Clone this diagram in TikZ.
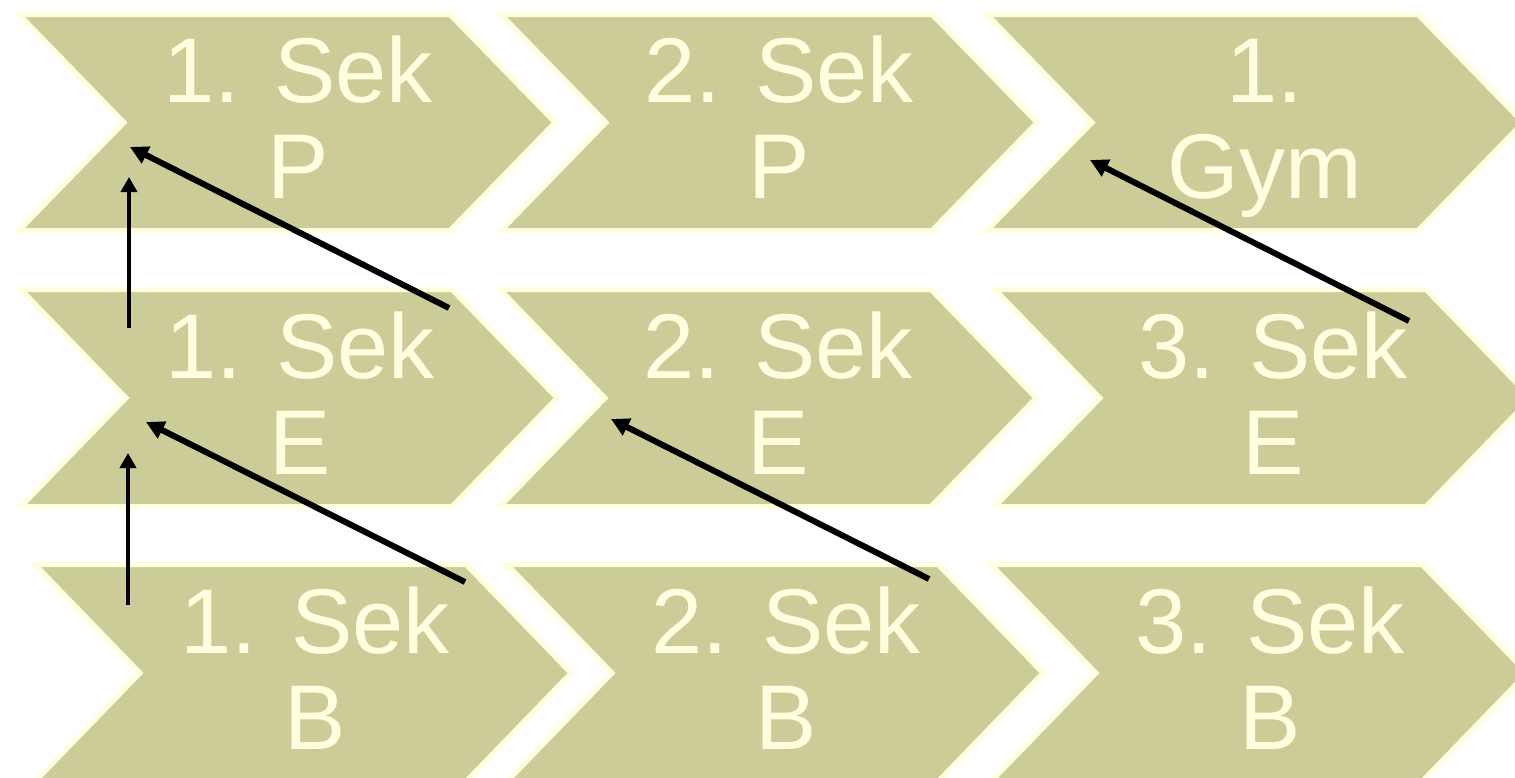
\documentclass[tikz,border=0pt]{standalone}
\usepackage{fontspec}
\setmainfont{Liberation Sans}
\usetikzlibrary{arrows.meta}
\definecolor{chevfill}{RGB}{204,204,153}
\definecolor{chevline}{RGB}{255,255,224}
\newcommand\mychev[3]{%
  \draw[chev] ({#1-3},{#2-2.5}) -- ({#1+428},{#2-2.5}) -- ({#1+533},{(#2+#3)/2})
    -- ({#1+428},{#3+2.5}) -- ({#1-3},{#3+2.5}) -- ({#1+102},{(#2+#3)/2}) -- cycle;}
\begin{document}
\begin{tikzpicture}[x=1pt,y=-1pt,
  chev/.style={fill=chevfill,draw=chevline,line width=5pt,line join=miter},
  lbl/.style={anchor=base,inner sep=0pt,text=chevline,font=\fontsize{92}{96}\selectfont},
  diag/.style={draw=black,line width=6pt,-{Triangle[length=18pt,width=18pt]}},
  vert/.style={draw=black,line width=3.8pt,-{Triangle[length=15pt,width=16pt]}}]
\useasboundingbox (0,0) rectangle (1515,777);
\fill[white] (0,0) rectangle (1515,777);
\clip (0,0) rectangle (1515,777);
% row 1
\mychev{22}{17}{228}
\mychev{504}{17}{228}
\mychev{990}{17}{228}
% row 2
\mychev{24}{292}{504}
\mychev{503}{292}{504}
\mychev{998}{292}{504}
% row 3
\mychev{38}{567}{779}
\mychev{510}{567}{779}
\mychev{994}{567}{779}
% labels row 1 (yc = 122.5)
\node[lbl] (p1a) at (298,102.5) {1. Sek};
\node[lbl] (p1b) at (298,198.5) {P};
\node[lbl] (p2a) at (779,102.5) {2. Sek};
\node[lbl] (p2b) at (779,198.5) {P};
\node[lbl] (g1a) at (1265,102.5) {1.};
\node[lbl] (g1b) at (1265,198.5) {Gym};
% labels row 2 (yc = 398)
\node[lbl] (e1a) at (300,378) {1. Sek};
\node[lbl] (e1b) at (300,474) {E};
\node[lbl] (e2a) at (778,378) {2. Sek};
\node[lbl] (e2b) at (778,474) {E};
\node[lbl] (e3a) at (1273,378) {3. Sek};
\node[lbl] (e3b) at (1273,474) {E};
% labels row 3 (yc = 673)
\node[lbl] (b1a) at (315,653) {1. Sek};
\node[lbl] (b1b) at (315,749) {B};
\node[lbl] (b2a) at (786,653) {2. Sek};
\node[lbl] (b2b) at (786,749) {B};
\node[lbl] (b3a) at (1270,653) {3. Sek};
\node[lbl] (b3b) at (1270,749) {B};
% arrow end points
\coordinate (aS) at (449,308);  \coordinate (aT) at (130,147);
\coordinate (bS) at (129,328);  \coordinate (bT) at (129,177);
\coordinate (cS) at (128,605);  \coordinate (cT) at (128,453);
\coordinate (dS) at (465,582);  \coordinate (dT) at (146,422);
\coordinate (eS) at (929,579);  \coordinate (eT) at (611,419);
\coordinate (fS) at (1409,321); \coordinate (fT) at (1090,160);
\draw[diag] (aS) -- (aT);
\draw[vert] (bS) -- (bT);
\draw[vert] (cS) -- (cT);
\draw[diag] (dS) -- (dT);
\draw[diag] (eS) -- (eT);
\draw[diag] (fS) -- (fT);
\end{tikzpicture}
\end{document}
